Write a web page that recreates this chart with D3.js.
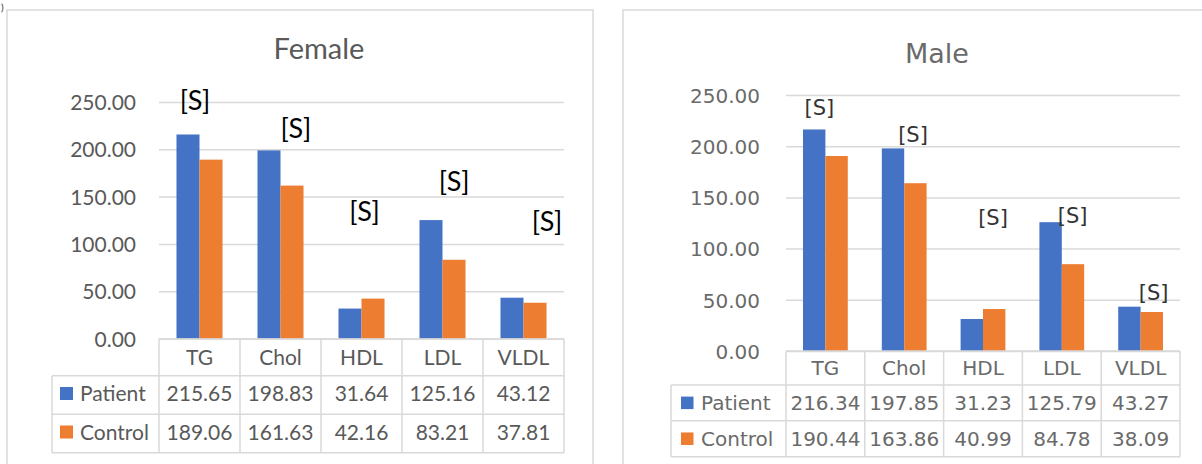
<!DOCTYPE html>
<html>
<head>
<meta charset="utf-8">
<script src="https://cdn.jsdelivr.net/npm/d3@7"></script>
<style>
  body { margin: 0; background: #fff; }
  svg { display: block; }
</style>
</head>
<body>
<div id="chart"></div>
<script>
var categories = ["TG", "Chol", "HDL", "LDL", "VLDL"],
    series = ["Patient", "Control"],
    colors = ["#4472C4", "#ED7D31"],
    yTicks = [0, 50, 100, 150, 200, 250];

var femalePatient = [215.65, 198.83, 31.64, 125.16, 43.12],
    femaleControl = [189.06, 161.63, 42.16, 83.21, 37.81],
    malePatient = [216.34, 197.85, 31.23, 125.79, 43.27],
    maleControl = [190.44, 163.86, 40.99, 84.78, 38.09];

// height (in data units) where each "[S]" mark sits
var femaleSig = [252, 222.5, 134.6, 166, 124],
    maleSig = [237.8, 211, 130, 132, 57.6];

var svg = d3.select("#chart").append("svg")
    .attr("width", 1202)
    .attr("height", 464);

// caption glyph at the top-left corner
svg.append("text")
    .attr("x", 1).attr("y", 11)
    .attr("font-family", "Lato").attr("font-size", "10px")
    .attr("fill", "#333")
    .text(")");

function drawPanel(p) {
  var g = svg.append("g");

  g.append("rect")
    .attr("x", p.box[0]).attr("y", p.box[1])
    .attr("width", p.box[2]).attr("height", p.box[3])
    .attr("fill", "#fff")
    .attr("stroke", "#d9d9d9")
    .attr("stroke-width", 1.5);

  var x = d3.scaleBand().domain(categories).range([p.x0, p.x1]).padding(0);
  var xs = d3.scaleBand().domain(series).range([0, x.bandwidth()])
      .paddingInner(0).paddingOuter(0.76);
  var y = d3.scaleLinear().domain([0, 250]).range([p.yZero, p.yTop]);

  var grid = g.append("g")
    .attr("transform", "translate(" + p.x0 + ",0)")
    .call(d3.axisLeft(y).tickValues(yTicks)
      .tickSize(-(p.x1 - p.x0))
      .tickPadding(p.tickPad)
      .tickFormat(d3.format(".2f")));
  grid.select(".domain").remove();
  grid.selectAll("line").attr("stroke", "#d9d9d9").attr("stroke-width", 1.5);
  grid.selectAll("text")
    .attr("font-family", p.font)
    .attr("font-size", p.fs + "px")
    .attr("fill", p.textColor)
    .attr("dy", "0.36em");

  var rows = [p.patient, p.control];
  rows.forEach(function (vals, si) {
    g.selectAll("rect.s" + si)
      .data(vals)
      .enter().append("rect")
        .attr("class", "s" + si)
        .attr("x", function (d, i) { return x(categories[i]) + xs(series[si]); })
        .attr("width", xs.bandwidth())
        .attr("y", function (d) { return y(d); })
        .attr("height", function (d) { return y(0) - y(d); })
        .attr("fill", colors[si]);
  });

  // significance marks
  g.selectAll("text.sig")
    .data(p.sig)
    .enter().append("text")
      .attr("class", "sig")
      .attr("text-anchor", "middle")
      .attr("x", function (d, i) { return x(categories[i]) + x.bandwidth() / 2 + p.sigDx[i]; })
      .attr("y", function (d) { return y(d); })
      .attr("dy", "0.36em")
      .attr("font-family", p.font)
      .attr("font-size", p.sigFs + "px")
      .attr("fill", p.sigColor)
      .text("[S]");

  // data table
  var r = p.rows;
  var lc = "#d9d9d9";
  var edges = categories.map(function (c) { return x(c); }).concat([p.x1]);
  edges.forEach(function (ex) {
    g.append("line")
      .attr("x1", ex).attr("x2", ex)
      .attr("y1", r[0]).attr("y2", r[3])
      .attr("stroke", lc).attr("stroke-width", 1.5);
  });
  g.append("line")
    .attr("x1", p.tableLeft).attr("x2", p.tableLeft)
    .attr("y1", r[1]).attr("y2", r[3])
    .attr("stroke", lc).attr("stroke-width", 1.5);
  [0, 1, 2, 3].forEach(function (k) {
    g.append("line")
      .attr("x1", k === 0 ? p.x0 : p.tableLeft).attr("x2", p.x1)
      .attr("y1", r[k]).attr("y2", r[k])
      .attr("stroke", lc).attr("stroke-width", 1.5);
  });

  g.selectAll("text.cat")
    .data(categories)
    .enter().append("text")
      .attr("class", "cat")
      .attr("text-anchor", "middle")
      .attr("x", function (d) { return x(d) + x.bandwidth() / 2; })
      .attr("y", (r[0] + r[1]) / 2)
      .attr("dy", "0.36em")
      .attr("font-family", p.font)
      .attr("font-size", p.fs + "px")
      .attr("fill", p.textColor)
      .text(function (d) { return d; });

  rows.forEach(function (vals, si) {
    var cy = (r[si + 1] + r[si + 2]) / 2 - p.rowLift;
    g.append("rect")
      .attr("x", p.keyX).attr("y", cy - p.keySize / 2)
      .attr("width", p.keySize).attr("height", p.keySize)
      .attr("fill", colors[si]);
    g.append("text")
      .attr("x", p.labelX).attr("y", cy).attr("dy", "0.36em")
      .attr("font-family", p.font)
      .attr("font-size", p.fs + "px")
      .attr("fill", p.textColor)
      .text(series[si]);
    g.selectAll("text.v" + si)
      .data(vals)
      .enter().append("text")
        .attr("class", "v" + si)
        .attr("text-anchor", "middle")
        .attr("x", function (d, i) { return x(categories[i]) + x.bandwidth() / 2; })
        .attr("y", cy).attr("dy", "0.36em")
        .attr("font-family", p.font)
        .attr("font-size", p.fs + "px")
        .attr("fill", p.textColor)
        .text(function (d) { return d3.format(".2f")(d); });
  });

  g.append("text")
    .attr("x", p.titleX).attr("y", p.titleY)
    .attr("text-anchor", "middle")
    .attr("font-family", p.font)
    .attr("font-size", p.titleFs + "px")
    .attr("fill", p.textColor)
    .text(p.title);
}

drawPanel({
  title: "Female", titleX: 319, titleY: 59, titleFs: 29,
  box: [7, 10, 586, 480],
  x0: 159, x1: 564, yZero: 338.5, yTop: 102,
  tickPad: 23, font: "Lato", fs: 21, textColor: "#595959",
  sigFs: 27, sigColor: "#000", sigDx: [-4.5, 15.4, 3, 11.7, 23.5],
  rows: [339, 375.7, 414.3, 452.7], rowLift: 1.5,
  tableLeft: 52, keyX: 60, keySize: 13, labelX: 80,
  patient: femalePatient, control: femaleControl, sig: femaleSig
});

drawPanel({
  title: "Male", titleX: 937, titleY: 63, titleFs: 27,
  box: [623, 10, 620, 480],
  x0: 786, x1: 1180, yZero: 351, yTop: 95,
  tickPad: 26, font: "DejaVu Sans", fs: 20, textColor: "#6a6a6a",
  sigFs: 21, sigColor: "#333", sigDx: [-6, 8.8, 10, 10.8, 13],
  rows: [351, 385, 420.7, 456.7], rowLift: 0,
  tableLeft: 671, keyX: 681, keySize: 12.5, labelX: 701,
  patient: malePatient, control: maleControl, sig: maleSig
});
</script>
</body>
</html>
